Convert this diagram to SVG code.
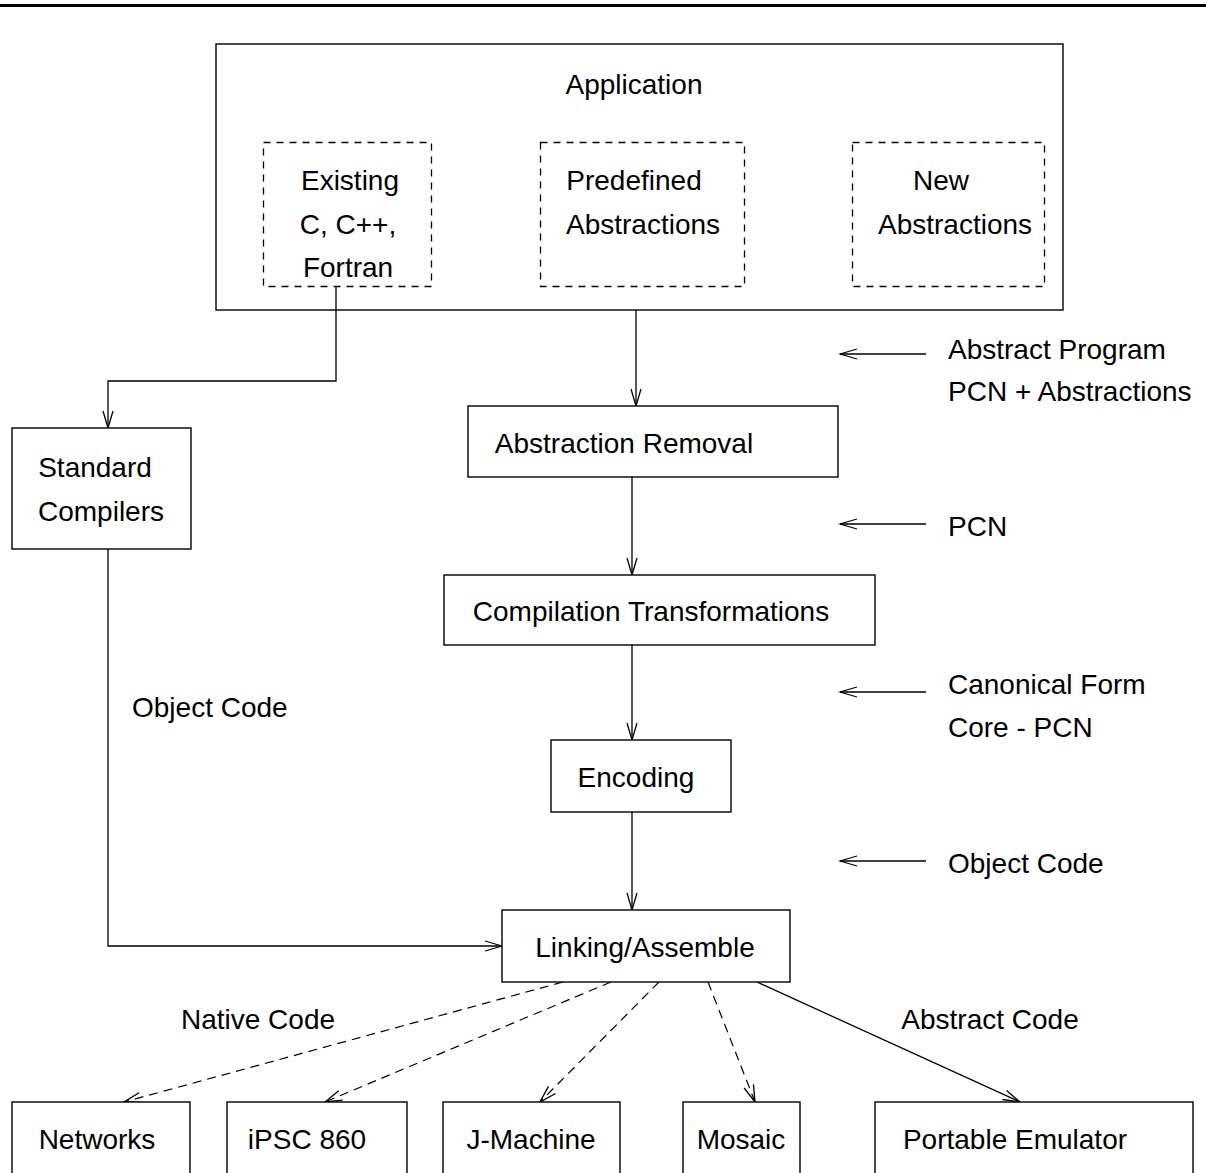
<svg xmlns="http://www.w3.org/2000/svg" width="1206" height="1173" viewBox="0 0 1206 1173">
<style>
.box{fill:#fff;stroke:#000;stroke-width:1.4}
.dbox{fill:none;stroke:#000;stroke-width:1.3;stroke-dasharray:7 6}
.t{font-family:"Liberation Sans",Arial,sans-serif;font-size:28px;fill:#000}
.c{text-anchor:middle}
.ln{fill:none;stroke:#000;stroke-width:1.3}
.dl{fill:none;stroke:#000;stroke-width:1.2;stroke-dasharray:9 6}
</style>
<defs>
<marker id="ah" markerUnits="userSpaceOnUse" markerWidth="20" markerHeight="12" viewBox="0 0 20 12" refX="18" refY="6" orient="auto">
<path d="M1,1 L18,6 L1,11" fill="none" stroke="#000" stroke-width="1.3"/>
</marker>
</defs>
<rect width="1206" height="1173" fill="#fff"/>
<line x1="0" y1="5.5" x2="1206" y2="5.5" stroke="#000" stroke-width="3"/>

<g id="connectors">
<polyline class="ln" points="336,286 336,381 108,381 108,428" marker-end="url(#ah)"/>
<line class="ln" x1="636" y1="310" x2="636" y2="406" marker-end="url(#ah)"/>
<line class="ln" x1="632" y1="477" x2="632" y2="575" marker-end="url(#ah)"/>
<line class="ln" x1="632" y1="645" x2="632" y2="740" marker-end="url(#ah)"/>
<line class="ln" x1="632" y1="812" x2="632" y2="910" marker-end="url(#ah)"/>
<polyline class="ln" points="108,549 108,946 502,946" marker-end="url(#ah)"/>
<line class="ln" x1="926" y1="354" x2="840" y2="354" marker-end="url(#ah)"/>
<line class="ln" x1="926" y1="524" x2="840" y2="524" marker-end="url(#ah)"/>
<line class="ln" x1="926" y1="692" x2="840" y2="692" marker-end="url(#ah)"/>
<line class="ln" x1="926" y1="861" x2="840" y2="861" marker-end="url(#ah)"/>
<line class="dl" x1="563" y1="982" x2="124" y2="1102" marker-end="url(#ah)"/>
<line class="dl" x1="611" y1="982" x2="325" y2="1102" marker-end="url(#ah)"/>
<line class="dl" x1="659" y1="982" x2="540" y2="1102" marker-end="url(#ah)"/>
<line class="dl" x1="708" y1="982" x2="755" y2="1102" marker-end="url(#ah)"/>
<line class="ln" x1="757" y1="982" x2="1020" y2="1102" marker-end="url(#ah)"/>
</g>

<g id="application">
<rect class="box" x="216" y="44" width="847" height="266" style="fill:none"/>
<text class="t c" x="634" y="94">Application</text>
</g>
<g id="existing">
<rect class="dbox" x="263.5" y="142.5" width="168" height="144"/>
<text class="t c" x="350" y="190">Existing</text>
<text class="t c" x="348" y="234">C, C++,</text>
<text class="t c" x="348" y="277">Fortran</text>
</g>
<g id="predefined">
<rect class="dbox" x="540.5" y="142.5" width="204" height="144"/>
<text class="t c" x="634" y="190">Predefined</text>
<text class="t c" x="643" y="234">Abstractions</text>
</g>
<g id="new">
<rect class="dbox" x="852.5" y="142.5" width="192" height="144"/>
<text class="t c" x="941" y="190">New</text>
<text class="t c" x="955" y="234">Abstractions</text>
</g>
<g id="standard">
<rect class="box" x="12" y="428" width="179" height="121"/>
<text class="t c" x="95" y="477">Standard</text>
<text class="t c" x="101" y="521">Compilers</text>
</g>
<g id="removal">
<rect class="box" x="468" y="406" width="370" height="71"/>
<text class="t c" x="624" y="453">Abstraction Removal</text>
</g>
<g id="transform">
<rect class="box" x="444" y="575" width="431" height="70"/>
<text class="t c" x="651" y="621">Compilation Transformations</text>
</g>
<g id="encoding">
<rect class="box" x="551" y="740" width="180" height="72"/>
<text class="t c" x="636" y="787">Encoding</text>
</g>
<g id="linking">
<rect class="box" x="502" y="910" width="288" height="72"/>
<text class="t c" x="645" y="957">Linking/Assemble</text>
</g>
<g id="networks">
<rect class="box" x="12" y="1102" width="178" height="90"/>
<text class="t c" x="97" y="1149">Networks</text>
</g>
<g id="ipsc">
<rect class="box" x="227" y="1102" width="180" height="90"/>
<text class="t c" x="307" y="1149">iPSC 860</text>
</g>
<g id="jmachine">
<rect class="box" x="443" y="1102" width="177" height="90"/>
<text class="t c" x="531" y="1149">J-Machine</text>
</g>
<g id="mosaic">
<rect class="box" x="683" y="1102" width="117" height="90"/>
<text class="t c" x="741" y="1149">Mosaic</text>
</g>
<g id="emulator">
<rect class="box" x="875" y="1102" width="318" height="90"/>
<text class="t c" x="1015" y="1149">Portable Emulator</text>
</g>
<g id="labels">
<text class="t" x="948" y="359">Abstract Program</text>
<text class="t" x="948" y="401">PCN + Abstractions</text>
<text class="t" x="948" y="536">PCN</text>
<text class="t" x="948" y="694">Canonical Form</text>
<text class="t" x="948" y="737">Core - PCN</text>
<text class="t" x="948" y="873">Object Code</text>
<text class="t" x="132" y="717">Object Code</text>
<text class="t c" x="258" y="1029">Native Code</text>
<text class="t c" x="990" y="1029">Abstract Code</text>
</g>
</svg>
